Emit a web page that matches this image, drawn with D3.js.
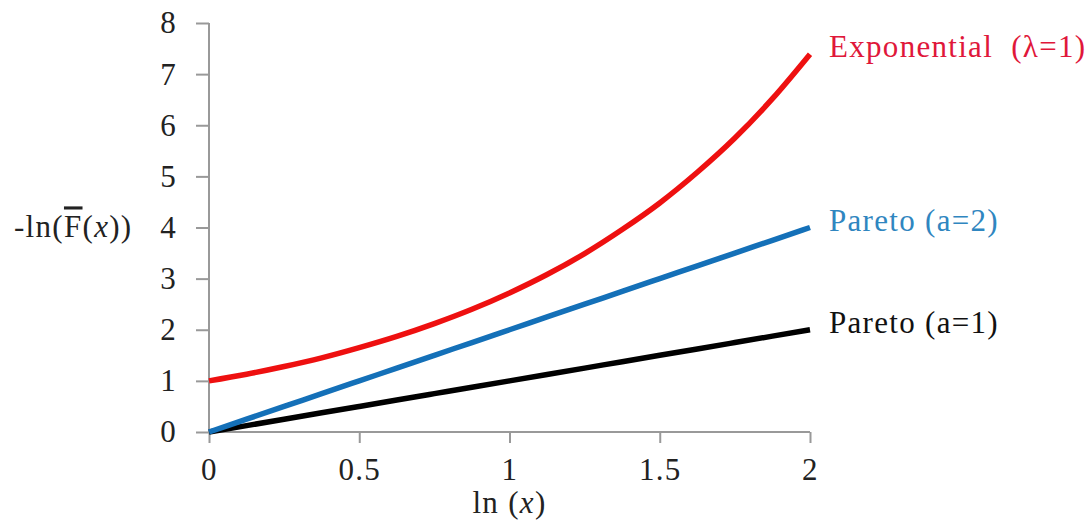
<!DOCTYPE html>
<html>
<head>
<meta charset="utf-8">
<script src="https://cdn.jsdelivr.net/npm/d3@7"></script>
<style>
    body { margin: 0; background: #fff; }
    text { font-family: "Liberation Serif", "Times New Roman", serif; letter-spacing: 1.3px; }
</style>
</head>
<body>
<svg id="chart"></svg>
<script>
// values
const lnX = [0, 0.125, 0.25, 0.375, 0.5, 0.625, 0.75, 0.875, 1, 1.125, 1.25, 1.375, 1.5, 1.625, 1.75, 1.875, 2];
const expValues = [1, 1.13, 1.28, 1.45, 1.65, 1.87, 2.12, 2.40, 2.72, 3.08, 3.49, 3.96, 4.48, 5.08, 5.75, 6.52, 7.39];
const pareto2Values = [0, 0.25, 0.5, 0.75, 1, 1.25, 1.5, 1.75, 2, 2.25, 2.5, 2.75, 3, 3.25, 3.5, 3.75, 4];
const pareto1Values = [0, 0.125, 0.25, 0.375, 0.5, 0.625, 0.75, 0.875, 1, 1.125, 1.25, 1.375, 1.5, 1.625, 1.75, 1.875, 2];
const xTicks = [0, 0.5, 1, 1.5, 2];
const yTicks = [0, 1, 2, 3, 4, 5, 6, 7, 8];

const series = [
    { name: "Exponential  (\u03bb=1)", values: expValues, color: "#ee1010", textColor: "#e0173a" },
    { name: "Pareto (a=2)", values: pareto2Values, color: "#1470b8", textColor: "#2f86c0" },
    { name: "Pareto (a=1)", values: pareto1Values, color: "#000000", textColor: "#111111" }
];

const config = {
    width: 1088,
    height: 521,
    margin: { top: 23, right: 278, bottom: 89, left: 209 },
    fontSize: 31
};

const innerW = config.width - config.margin.left - config.margin.right;
const innerH = config.height - config.margin.top - config.margin.bottom;

const svg = d3.select("#chart")
    .attr("width", config.width)
    .attr("height", config.height);

const chart = svg.append("g")
    .attr("transform", `translate(${config.margin.left}, ${config.margin.top})`);

const xScale = d3.scaleLinear().domain([0, 2]).range([0, innerW]);
const yScale = d3.scaleLinear().domain([0, 8]).range([innerH, 0]);

const xAxis = d3.axisBottom(xScale).tickValues(xTicks).tickSize(11).tickPadding(15).tickFormat(d3.format("~g"));
const yAxis = d3.axisLeft(yScale).tickValues(yTicks).tickSize(13).tickPadding(19);

const xAxisG = chart.append("g")
    .attr("transform", `translate(0, ${innerH})`)
    .call(xAxis);

const yAxisG = chart.append("g").call(yAxis);

[xAxisG, yAxisG].forEach(g => {
    g.select(".domain").attr("stroke", "#999").attr("stroke-width", 2);
    g.selectAll(".tick line").attr("stroke", "#999").attr("stroke-width", 2);
    g.selectAll(".tick text")
        .style("font-family", "'Liberation Serif', serif")
        .style("font-size", config.fontSize + "px")
        .attr("fill", "#222");
});
xAxisG.select(".domain").attr("d", `M0,0H${innerW}`);
yAxisG.select(".domain").attr("d", `M0,0V${innerH}`);

const line = d3.line()
    .x((d, i) => xScale(lnX[i]))
    .y(d => yScale(d))
    .curve(d3.curveMonotoneX);

chart.selectAll(".series")
    .data(series.slice().reverse())
    .enter()
    .append("path")
    .attr("class", "series")
    .attr("d", d => line(d.values))
    .attr("fill", "none")
    .attr("stroke", d => d.color)
    .attr("stroke-width", 5.5)
    .attr("stroke-linecap", "butt");

chart.selectAll(".label")
    .data(series)
    .enter()
    .append("text")
    .attr("class", "label")
    .attr("x", innerW + 19)
    .attr("y", d => yScale(d.values[d.values.length - 1]))
    .attr("dy", "0.1em")
    .attr("fill", d => d.textColor)
    .style("font-size", config.fontSize + "px")
    .style("white-space", "pre")
    .text(d => d.name);

// axis titles
const xTitle = svg.append("text")
    .attr("x", config.margin.left + xScale(1))
    .attr("y", 513)
    .attr("text-anchor", "middle")
    .style("font-size", config.fontSize + "px")
    .attr("fill", "#222");
xTitle.append("tspan").text("ln (");
xTitle.append("tspan").style("font-style", "italic").text("x");
xTitle.append("tspan").text(")");

const yTitle = svg.append("text")
    .attr("x", 14)
    .attr("y", config.margin.top + yScale(4))
    .attr("dy", "0.32em")
    .style("font-size", config.fontSize + "px")
    .attr("fill", "#222");
yTitle.append("tspan").text("-ln(");
yTitle.append("tspan").style("text-decoration", "overline").text("F");
yTitle.append("tspan").text("(");
yTitle.append("tspan").style("font-style", "italic").text("x");
yTitle.append("tspan").text("))");
</script>
</body>
</html>
